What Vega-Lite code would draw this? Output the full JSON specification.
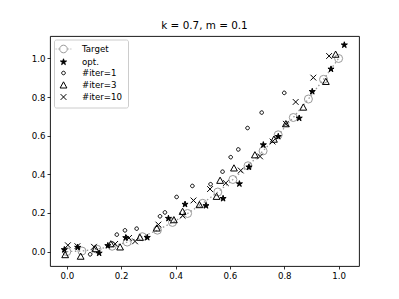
{
  "$schema": "https://vega.github.io/schema/vega-lite/v6.json",
  "width": 309,
  "height": 230,
  "autosize": "none",
  "padding": {"left": 50, "top": 36, "right": 40, "bottom": 33},
  "title": {"text": "k = 0.7, m = 0.1", "font": "DejaVu Sans", "fontSize": 10.4, "fontWeight": "normal", "color": "black", "offset": 5, "anchor": "middle"},
  "config": {
    "view": {"stroke": "black", "strokeWidth": 0.9},
    "axis": {"domain": false, "grid": false, "tickColor": "black", "tickSize": 3, "tickWidth": 0.8, "labelFont": "DejaVu Sans", "labelFontSize": 8.65, "labelColor": "black", "labelPadding": 2, "title": null},
    "legend": {"labelFont": "DejaVu Sans", "labelFontSize": 8.65, "labelColor": "black", "strokeColor": "#cccccc", "fillColor": "rgba(255,255,255,0.8)", "cornerRadius": 2, "padding": 5, "labelOffset": 14, "rowPadding": 1, "symbolStrokeWidth": 1, "symbolSize": 64, "title": null}
  },
  "data": {"values": [
    {"s": "Target", "x": 0.0, "y": 0.0},
    {"s": "Target", "x": 0.0556, "y": 0.0031},
    {"s": "Target", "x": 0.1111, "y": 0.0123},
    {"s": "Target", "x": 0.1667, "y": 0.0278},
    {"s": "Target", "x": 0.2222, "y": 0.0494},
    {"s": "Target", "x": 0.2778, "y": 0.0772},
    {"s": "Target", "x": 0.3333, "y": 0.1111},
    {"s": "Target", "x": 0.3889, "y": 0.1512},
    {"s": "Target", "x": 0.4444, "y": 0.1975},
    {"s": "Target", "x": 0.5, "y": 0.25},
    {"s": "Target", "x": 0.5556, "y": 0.3086},
    {"s": "Target", "x": 0.6111, "y": 0.3735},
    {"s": "Target", "x": 0.6667, "y": 0.4444},
    {"s": "Target", "x": 0.7222, "y": 0.5216},
    {"s": "Target", "x": 0.7778, "y": 0.6049},
    {"s": "Target", "x": 0.8333, "y": 0.6944},
    {"s": "Target", "x": 0.8889, "y": 0.7901},
    {"s": "Target", "x": 0.9444, "y": 0.892},
    {"s": "Target", "x": 1.0, "y": 1.0},
    {"s": "opt.", "x": -0.009, "y": 0.01},
    {"s": "opt.", "x": 0.04, "y": 0.022},
    {"s": "opt.", "x": 0.119, "y": -0.008},
    {"s": "opt.", "x": 0.151, "y": 0.031},
    {"s": "opt.", "x": 0.217, "y": 0.072},
    {"s": "opt.", "x": 0.296, "y": 0.073},
    {"s": "opt.", "x": 0.374, "y": 0.172},
    {"s": "opt.", "x": 0.435, "y": 0.245},
    {"s": "opt.", "x": 0.512, "y": 0.238},
    {"s": "opt.", "x": 0.575, "y": 0.275},
    {"s": "opt.", "x": 0.635, "y": 0.351},
    {"s": "opt.", "x": 0.67, "y": 0.438},
    {"s": "opt.", "x": 0.723, "y": 0.553},
    {"s": "opt.", "x": 0.778, "y": 0.596},
    {"s": "opt.", "x": 0.855, "y": 0.691},
    {"s": "opt.", "x": 0.903, "y": 0.829},
    {"s": "opt.", "x": 0.972, "y": 0.945},
    {"s": "opt.", "x": 1.021, "y": 1.07},
    {"s": "#iter=1", "x": 0.086, "y": -0.014},
    {"s": "#iter=1", "x": 0.184, "y": 0.088},
    {"s": "#iter=1", "x": 0.214, "y": 0.11},
    {"s": "#iter=1", "x": 0.257, "y": 0.119},
    {"s": "#iter=1", "x": 0.343, "y": 0.183},
    {"s": "#iter=1", "x": 0.361, "y": 0.203},
    {"s": "#iter=1", "x": 0.404, "y": 0.283},
    {"s": "#iter=1", "x": 0.462, "y": 0.34},
    {"s": "#iter=1", "x": 0.529, "y": 0.349},
    {"s": "#iter=1", "x": 0.573, "y": 0.414},
    {"s": "#iter=1", "x": 0.603, "y": 0.489},
    {"s": "#iter=1", "x": 0.631, "y": 0.529},
    {"s": "#iter=1", "x": 0.665, "y": 0.64},
    {"s": "#iter=1", "x": 0.717, "y": 0.72},
    {"s": "#iter=1", "x": 0.8, "y": 0.822},
    {"s": "#iter=3", "x": -0.006, "y": -0.016},
    {"s": "#iter=3", "x": 0.051, "y": -0.024},
    {"s": "#iter=3", "x": 0.105, "y": 0.015},
    {"s": "#iter=3", "x": 0.162, "y": 0.04},
    {"s": "#iter=3", "x": 0.196, "y": 0.024},
    {"s": "#iter=3", "x": 0.269, "y": 0.074},
    {"s": "#iter=3", "x": 0.331, "y": 0.122},
    {"s": "#iter=3", "x": 0.394, "y": 0.165},
    {"s": "#iter=3", "x": 0.426, "y": 0.208},
    {"s": "#iter=3", "x": 0.488, "y": 0.243},
    {"s": "#iter=3", "x": 0.551, "y": 0.286},
    {"s": "#iter=3", "x": 0.564, "y": 0.369},
    {"s": "#iter=3", "x": 0.615, "y": 0.433},
    {"s": "#iter=3", "x": 0.692, "y": 0.501},
    {"s": "#iter=3", "x": 0.762, "y": 0.582},
    {"s": "#iter=3", "x": 0.806, "y": 0.662},
    {"s": "#iter=3", "x": 0.87, "y": 0.748},
    {"s": "#iter=3", "x": 0.953, "y": 0.881},
    {"s": "#iter=3", "x": 0.989, "y": 1.022},
    {"s": "#iter=10", "x": 0.004, "y": 0.033},
    {"s": "#iter=10", "x": 0.039, "y": 0.028},
    {"s": "#iter=10", "x": 0.1, "y": 0.025},
    {"s": "#iter=10", "x": 0.178, "y": 0.04},
    {"s": "#iter=10", "x": 0.229, "y": 0.071},
    {"s": "#iter=10", "x": 0.251, "y": 0.053},
    {"s": "#iter=10", "x": 0.337, "y": 0.14},
    {"s": "#iter=10", "x": 0.426, "y": 0.186},
    {"s": "#iter=10", "x": 0.466, "y": 0.265},
    {"s": "#iter=10", "x": 0.527, "y": 0.324},
    {"s": "#iter=10", "x": 0.585, "y": 0.355},
    {"s": "#iter=10", "x": 0.64, "y": 0.42},
    {"s": "#iter=10", "x": 0.711, "y": 0.493},
    {"s": "#iter=10", "x": 0.757, "y": 0.57},
    {"s": "#iter=10", "x": 0.806, "y": 0.662},
    {"s": "#iter=10", "x": 0.842, "y": 0.775},
    {"s": "#iter=10", "x": 0.907, "y": 0.901},
    {"s": "#iter=10", "x": 0.965, "y": 1.013}
  ]},
  "encoding": {
    "x": {"field": "x", "type": "quantitative", "scale": {"domain": [-0.0618, 1.075], "nice": false, "zero": false}, "axis": {"values": [0, 0.2, 0.4, 0.6, 0.8, 1.0], "format": ".1f"}},
    "y": {"field": "y", "type": "quantitative", "scale": {"domain": [-0.0745, 1.1165], "nice": false, "zero": false}, "axis": {"values": [0, 0.2, 0.4, 0.6, 0.8, 1.0], "format": ".1f"}}
  },
  "layer": [
    {
      "transform": [{"filter": "datum.s === 'Target'"}],
      "mark": {"type": "line", "stroke": "#999999", "strokeDash": [1.5, 2.5], "strokeWidth": 1.3},
      "encoding": {}
    },
    {
      "transform": [{"filter": "datum.s === 'Target'"}],
      "mark": {"type": "point", "shape": "circle", "filled": false, "stroke": "#999999", "strokeWidth": 1, "size": 64, "opacity": 1}
    },
    {
      "transform": [{"filter": "datum.s !== 'Target'"}],
      "mark": {"type": "point", "strokeWidth": 1, "opacity": 1, "fillOpacity": 1, "size": 64},
      "encoding": {
        "shape": {"field": "s", "type": "nominal", "scale": {"domain": ["Target", "opt.", "#iter=1", "#iter=3", "#iter=10"], "range": [
          "M0.95,0A0.95,0.95,0,1,1,-0.95,0A0.95,0.95,0,1,1,0.95,0ZM-1.95,0L-1.75,0M-1.4,0L-1.2,0M1.2,0L1.4,0M1.75,0L1.95,0",
          "M0,-0.8L0.17,-0.23L0.76,-0.25L0.28,0.1L0.47,0.65L0,0.3L-0.47,0.65L-0.28,0.1L-0.76,-0.25L-0.17,-0.23Z",
          "M0.45,0A0.45,0.45,0,1,1,-0.45,0A0.45,0.45,0,1,1,0.45,0Z",
          "M0,-0.8L0.85,0.75L-0.85,0.75Z",
          "M-0.72,-0.72L0.72,0.72M-0.72,0.72L0.72,-0.72"
        ]}, "legend": {"orient": "none", "legendX": 4, "legendY": 3.5}},
        "stroke": {"field": "s", "type": "nominal", "scale": {"domain": ["Target", "opt.", "#iter=1", "#iter=3", "#iter=10"], "range": ["#999999", "black", "black", "black", "black"]}, "legend": {"orient": "none", "legendX": 4, "legendY": 3.5}},
        "fill": {"field": "s", "type": "nominal", "scale": {"domain": ["Target", "opt.", "#iter=1", "#iter=3", "#iter=10"], "range": ["rgba(255,255,255,0)", "black", "rgba(255,255,255,0)", "rgba(255,255,255,0)", "rgba(255,255,255,0)"]}, "legend": {"orient": "none", "legendX": 4, "legendY": 3.5}}
      }
    }
  ]
}
